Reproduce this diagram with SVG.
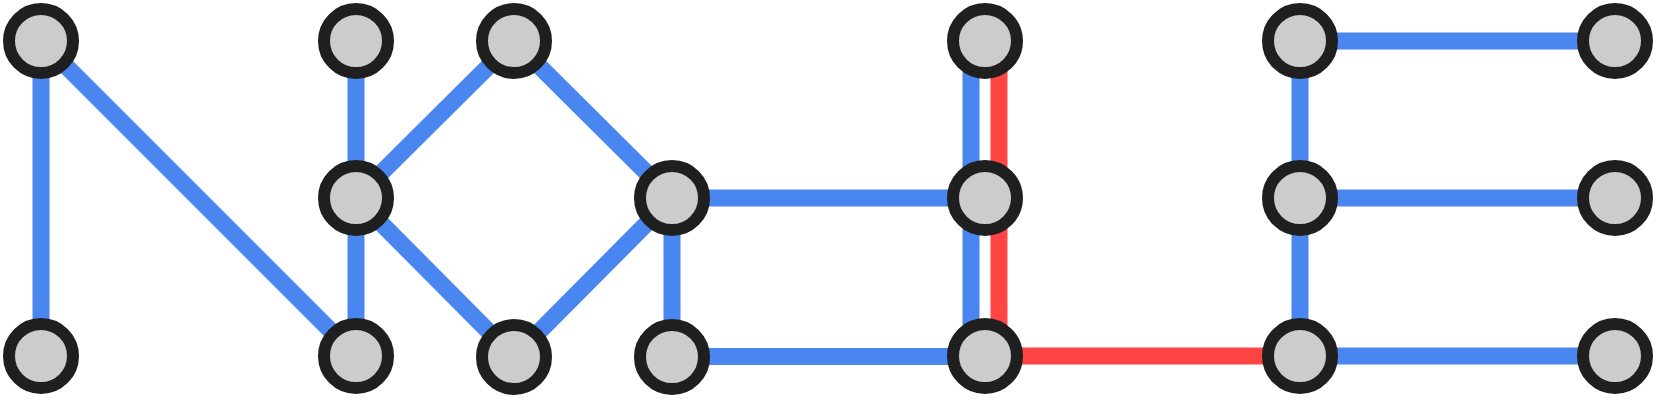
<svg xmlns="http://www.w3.org/2000/svg" width="1656" height="402" viewBox="0 0 1656 402">
<style>
.b{stroke:#4a86f0;stroke-width:17;fill:none}
.r{stroke:#ff4444;stroke-width:17;fill:none}
.n{fill:#cccccc;stroke:#1f1f1f;stroke-width:12}
</style>
<rect width="1656" height="402" fill="#fff"/>
<g id="connectors">
<line class="b" x1="41" y1="41" x2="41" y2="356"/>
<line class="b" x1="41" y1="41" x2="356" y2="356"/>
<line class="b" x1="356" y1="41" x2="356" y2="198"/>
<line class="b" x1="356" y1="198" x2="356" y2="356"/>
<line class="b" x1="356" y1="198" x2="514" y2="41"/>
<line class="b" x1="356" y1="198" x2="514" y2="357"/>
<line class="b" x1="514" y1="41" x2="672" y2="198"/>
<line class="b" x1="514" y1="357" x2="672" y2="198"/>
<line class="b" x1="672" y1="198" x2="672" y2="357"/>
<line class="b" x1="672" y1="198" x2="985" y2="198"/>
<line class="b" x1="672" y1="356.5" x2="985" y2="356.5"/>
<line class="b" x1="971" y1="41" x2="971" y2="356"/>
<line class="r" x1="999" y1="41" x2="999" y2="356"/>
<line class="r" x1="985" y1="356" x2="1300" y2="356"/>
<line class="b" x1="1300" y1="41" x2="1300" y2="356"/>
<line class="b" x1="1300" y1="41" x2="1615" y2="41"/>
<line class="b" x1="1300" y1="198" x2="1615" y2="198"/>
<line class="b" x1="1300" y1="356" x2="1615" y2="356"/>
</g>
<g id="n1"><circle class="n" cx="41" cy="41" r="32"/></g>
<g id="n2"><circle class="n" cx="41" cy="356" r="32"/></g>
<g id="n3"><circle class="n" cx="356" cy="41" r="32"/></g>
<g id="n4"><circle class="n" cx="356" cy="198" r="32"/></g>
<g id="n5"><circle class="n" cx="356" cy="356" r="32"/></g>
<g id="n6"><circle class="n" cx="514" cy="41" r="32"/></g>
<g id="n7"><circle class="n" cx="514" cy="357" r="32"/></g>
<g id="n8"><circle class="n" cx="672" cy="198" r="32"/></g>
<g id="n9"><circle class="n" cx="672" cy="357" r="32"/></g>
<g id="n10"><circle class="n" cx="985" cy="41" r="32"/></g>
<g id="n11"><circle class="n" cx="985" cy="198" r="32"/></g>
<g id="n12"><circle class="n" cx="985" cy="356" r="32"/></g>
<g id="n13"><circle class="n" cx="1300" cy="41" r="32"/></g>
<g id="n14"><circle class="n" cx="1300" cy="198" r="32"/></g>
<g id="n15"><circle class="n" cx="1300" cy="356" r="32"/></g>
<g id="n16"><circle class="n" cx="1615" cy="41" r="32"/></g>
<g id="n17"><circle class="n" cx="1615" cy="198" r="32"/></g>
<g id="n18"><circle class="n" cx="1615" cy="356" r="32"/></g>
</svg>
